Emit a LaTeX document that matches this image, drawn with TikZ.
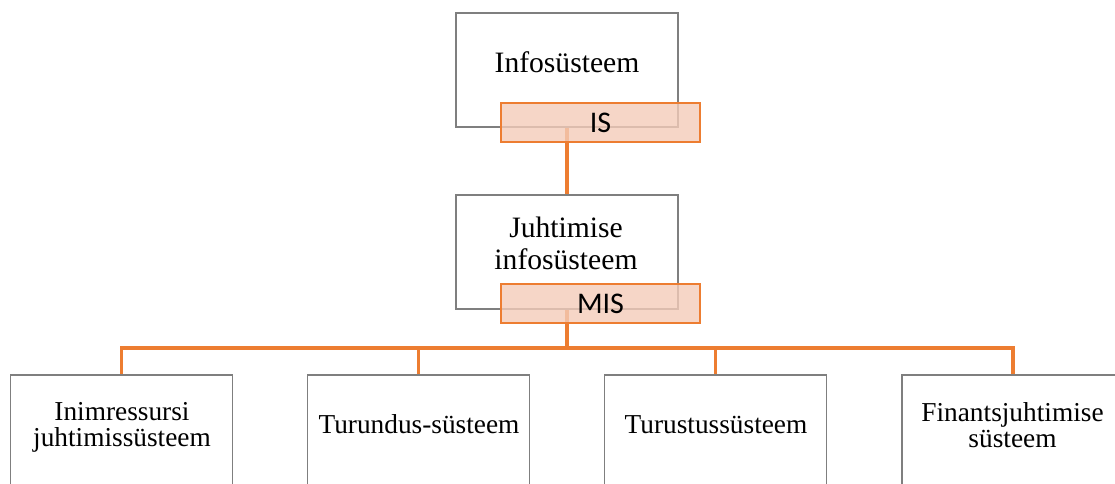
\documentclass[tikz,border=0pt]{standalone}
\usepackage{fontspec}
\setmainfont{Liberation Serif}
\newfontfamily\labelfont{Carlito}

\definecolor{linkorange}{RGB}{237,125,49}
\definecolor{labelfill}{RGB}{244,204,185}
\definecolor{boxgray}{RGB}{127,127,127}

\tikzset{every picture/.style={line width=0.75pt}}
\tikzset{
  unitbox/.style={draw=boxgray, line width=0.9pt, fill=white, inner sep=0pt,
    minimum width=166.5pt, minimum height=85.5pt},
  tagbox/.style={draw=linkorange, line width=1.3pt, fill=labelfill, fill opacity=0.8,
    text opacity=1, inner sep=0pt, minimum width=149.25pt, minimum height=29.25pt,
    font=\labelfont\fontsize{22.5}{24}\selectfont},
  link/.style={draw=linkorange, line width=2.5pt},
  toptext/.style={align=center, inner sep=0pt, font=\fontsize{22.2}{24}\selectfont},
  subtext/.style={align=center, inner sep=0pt, font=\fontsize{20.5}{19.5}\selectfont}
}

\begin{document}
\begin{tikzpicture}[x=0.75pt,y=0.75pt,yscale=-1,xscale=1]
%set diagram to 1115 x 484
\clip (0,0) rectangle (1115,484);

%Shape: Rectangle [id:info]
\node[unitbox] (info) at (567,70) {};
%Shape: Rectangle [id:mis]
\node[unitbox] (mis) at (567,252) {};
%Shape: Rectangle [id:hr]
\node[unitbox] (hr) at (121.5,432) {};
%Shape: Rectangle [id:mkt]
\node[unitbox] (mkt) at (418.5,432) {};
%Shape: Rectangle [id:dist]
\node[unitbox] (dist) at (715.5,432) {};
%Shape: Rectangle [id:fin]
\node[unitbox] (fin) at (1013,432) {};

%Straight Lines [id:info-mis]
\draw[link] (info.south) -- (mis.north);
%Straight Lines [id:mis-bus]
\coordinate (bus) at (567,348);
\draw[link] (mis.south) -- (bus);
%Straight Lines [id:bus-units]
\foreach \unit in {hr,mkt,dist,fin}
  \draw[link] (bus) -| (\unit.north);

%Shape: Rectangle [id:infotag]
\node[tagbox] (infotag) at (600.5,122.5) {IS};
%Shape: Rectangle [id:mistag]
\node[tagbox] (mistag) at (600.5,303.5) {MIS};

% Text Node
\node[toptext] (infotxt) at (567,62) {Infosüsteem};
% Text Node
\node[toptext] (mistxt) at (566,243) {Juhtimise\\infosüsteem};
% Text Node
\node[subtext] (hrtxt) at (122,427.5) {Inimressursi\\juhtimissüsteem};
% Text Node
\node[subtext] (mkttxt) at (419,424.5) {Turundus-süsteem};
% Text Node
\node[subtext] (disttxt) at (716,424.5) {Turustussüsteem};
% Text Node
\node[subtext] (fintxt) at (1012.5,425) {Finantsjuhtimise\\süsteem};

\end{tikzpicture}
\end{document}
